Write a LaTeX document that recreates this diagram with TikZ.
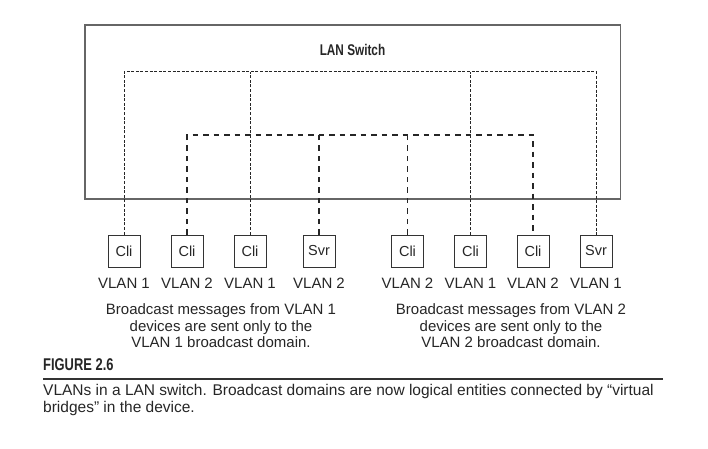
\documentclass[tikz,border=0pt]{standalone}
\usepackage{fontspec}
\setmainfont{Liberation Sans}
\newfontfamily\condfont[FakeStretch=0.76]{Liberation Sans}
\usetikzlibrary{positioning}

\begin{document}
\begin{tikzpicture}[x=1pt, y=-1pt,
        ink/.style={black!85},
        switchbox/.style={draw=black!60, line width=1.4pt},
        dev/.style={draw=black!80, line width=0.8pt, minimum width=32pt, minimum height=32pt, inner sep=0pt, font=\fontsize{14.5}{16}\selectfont, text=black!85},
        vlab/.style={inner sep=0pt, font=\fontsize{15}{17}\selectfont, text=black!85},
        note/.style={align=center, inner sep=0pt, font=\fontsize{15}{16.5}\selectfont, text=black!85},
        vone/.style={draw=black!85, line width=0.9pt, dash pattern=on 3pt off 1.6pt},
        vtwo/.style={draw=black!85, line width=1.3pt, dash pattern=on 5.5pt off 5pt}
    ]
        \useasboundingbox (0,0) rectangle (708,448);
        % switch
        \draw[switchbox] (85,25) rectangle (620.5,199);
        \node[ink, inner sep=0pt, font=\condfont\bfseries\fontsize{15.5}{17}\selectfont] (sw) at (352.5,50) {LAN Switch};
        \coordinate (busone) at (352,71.5);
        \coordinate (bustwo) at (352,135);
        % devices
        \node[dev, anchor=north] (c1) at (124,234.5) {Cli};
        \node[dev, anchor=north] (c2) at (187,234.5) {Cli};
        \node[dev, anchor=north] (c3) at (250,234.5) {Cli};
        \node[dev, anchor=north] (c4) at (319,234.5) {Svr};
        \node[dev, anchor=north] (c5) at (407.5,234.5) {Cli};
        \node[dev, anchor=north] (c6) at (470.5,234.5) {Cli};
        \node[dev, anchor=north] (c7) at (533,234.5) {Cli};
        \node[dev, anchor=north] (c8) at (596,234.5) {Svr};
        \node[vlab, below=11pt of c1] (l1) {VLAN 1};
        \node[vlab, below=11pt of c2] (l2) {VLAN 2};
        \node[vlab, below=11pt of c3] (l3) {VLAN 1};
        \node[vlab, below=11pt of c4] (l4) {VLAN 2};
        \node[vlab, below=11pt of c5] (l5) {VLAN 2};
        \node[vlab, below=11pt of c6] (l6) {VLAN 1};
        \node[vlab, below=11pt of c7] (l7) {VLAN 2};
        \node[vlab, below=11pt of c8] (l8) {VLAN 1};
        % VLAN 1 domain
        \draw[vone] (c1.north) |- (busone) -| (c8.north);
        \draw[vone] (c3.north) -- (c3.north |- busone);
        \draw[vone] (c6.north) -- (c6.north |- busone);
        % VLAN 2 domain
        \draw[vtwo] (c2.north) |- (bustwo) -| (c7.north);
        \draw[vtwo] (c4.north) -- (c4.north |- bustwo);
        \draw[vtwo] (c5.north) -- (c5.north |- bustwo);
        % notes
        \node[note] (n1) at (221,326) {Broadcast messages from VLAN 1\\devices are sent only to the\\VLAN 1 broadcast domain.};
        \node[note] (n2) at (511,326) {Broadcast messages from VLAN 2\\devices are sent only to the\\VLAN 2 broadcast domain.};
        % caption
        \node[ink, anchor=west, inner sep=0pt, font=\condfont\bfseries\fontsize{17}{19}\selectfont] (fig) at (43,365) {FIGURE 2.6};
        \coordinate (rulel) at (43,378.8);
        \coordinate (ruler) at (663,378.8);
        \draw[black!80, line width=1.6pt] (rulel) -- (ruler);
        \node[ink, anchor=north west, inner sep=0pt, align=left, font=\fontsize{15.5}{16.5}\selectfont] (cap) at (43,384.5) {VLANs in a LAN switch. Broadcast domains are now logical entities connected by ``virtual\\bridges'' in the device.};
    \end{tikzpicture}
\end{document}
